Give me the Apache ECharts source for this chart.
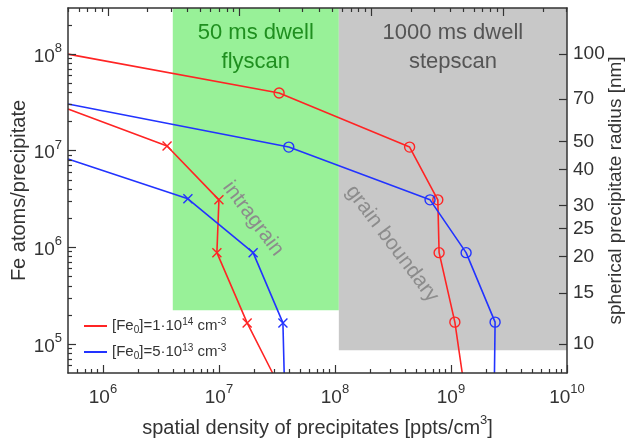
<!DOCTYPE html>
<html>
<head>
<meta charset="utf-8">
<script src="https://cdn.jsdelivr.net/npm/echarts@6/dist/echarts.min.js"></script>
<style>
  html, body { margin: 0; padding: 0; background: #fff; }
  #chart { width: 629px; height: 442px; }
</style>
</head>
<body>
<div id="chart"></div>
<script>
// axis ranges (real units)
const xMin = 5e5, xMax = 1e10;
const yMin = 5e4, yMax = 3e8;
// unlabelled top axis: decades relative to its first major tick
const topLo = -0.304, topHi = 3.485;
// radius axis: r = 100 nm at 1e8 atoms, r ~ N^(1/3)
const radiusTicks = [10, 15, 20, 25, 30, 40, 50, 70, 100];

const seriesNames = ['[Fe_{0}]=1·10^{14} cm^{-3}', '[Fe_{0}]=5·10^{13} cm^{-3}'];

// grain boundary (circles)
const redGbX = [5e5, 3.3e7, 4.4e8, 7.7e8, 7.9e8, 1.08e9, 1.25e9];
const redGbY = [1.0e8, 3.95e7, 1.09e7, 3.1e6, 8.8e5, 1.68e5, 5e4];
const blueGbX = [5e5, 4.0e7, 6.6e8, 1.35e9, 2.4e9, 2.37e9];
const blueGbY = [3.04e7, 1.09e7, 3.1e6, 8.8e5, 1.68e5, 5e4];
// intragrain (crosses)
const redIgX = [5e5, 3.57e6, 1.0e7, 9.6e6, 1.75e7, 2.9e7];
const redIgY = [2.7e7, 1.12e7, 3.1e6, 8.8e5, 1.65e5, 5e4];
const blueIgX = [5e5, 5.4e6, 1.97e7, 3.56e7, 3.65e7];
const blueIgY = [8.2e6, 3.18e6, 8.8e5, 1.65e5, 5e4];

// shaded regions
const flyscanX = [4.0e6, 1.08e8], flyscanYBottom = 2.23e5;
const stepscanX = [1.08e8, 1e10], stepscanYBottom = 8.6e4;
const flyscanText = '50 ms dwell\nflyscan';
const stepscanText = '1000 ms dwell\nstepscan';

// rotated annotations [x, y]
const intragrainAt = [1.97e7, 1.98e6];
const boundaryAt = [3.1e8, 1.09e6];

const RED = '#ff2424', BLUE = '#2233ff';
const AXIS = '#333333';
const FONT = '"Liberation Sans", Arial, sans-serif';

const lg = Math.log10;
const rOf = n => 2 + (lg(n) - 8) / 3;

function decadeMinors(lo, hi) {
  const out = [];
  for (let n = Math.floor(lo) - 1; n <= Math.ceil(hi); n++) {
    for (let k = 2; k <= 9; k++) {
      const v = n + lg(k);
      if (v > lo + 1e-6 && v < hi - 1e-6) out.push(v);
    }
  }
  return out;
}
function decadeMajors(lo, hi) {
  const out = [];
  for (let n = Math.ceil(lo - 1e-9); n <= hi + 1e-9; n++) out.push(n);
  return out;
}
function toRich(s) {
  return s.split(/([_^]\{[^}]*\})/).filter(Boolean).map(p => {
    if (p[0] === '_') return '{sub|' + p.slice(2, -1) + '}';
    if (p[0] === '^') return '{sup|' + p.slice(2, -1) + '}';
    return '{t|' + p + '}';
  }).join('');
}

const tickRich = {
  t: { fontSize: 19, lineHeight: 24, verticalAlign: 'bottom', color: AXIS, fontFamily: FONT },
  sup: { fontSize: 13, lineHeight: 14, verticalAlign: 'top', color: AXIS, fontFamily: FONT }
};
const nameRich = {
  t: { fontSize: 20, lineHeight: 24, verticalAlign: 'bottom', color: AXIS, fontFamily: FONT },
  sup: { fontSize: 13, lineHeight: 14, verticalAlign: 'top', color: AXIS, fontFamily: FONT }
};

const xLo = lg(xMin), xHi = lg(xMax), yLo = lg(yMin), yHi = lg(yMax);

function majorAxis(extra) {
  return Object.assign({
    type: 'value',
    z: 5,
    nameMoveOverlap: false,
    splitLine: { show: false },
    axisLine: { show: true, onZero: false, lineStyle: { color: AXIS, width: 1.5 } },
    axisTick: { show: true, inside: true, length: 8, lineStyle: { color: AXIS, width: 1.2 } },
    axisLabel: { show: false }
  }, extra);
}
function minorAxis(extra, ticks) {
  return Object.assign({
    type: 'value',
    z: 5,
    splitLine: { show: false },
    axisLine: { show: false, onZero: false },
    axisTick: { show: true, inside: true, length: 4, customValues: ticks, lineStyle: { color: AXIS, width: 1.2 } },
    axisLabel: { show: false }
  }, extra);
}

function pts(xs, ys, marker) {
  return xs.map((x, i) => {
    const edge = i === 0 || i === xs.length - 1;
    return { value: [lg(x), lg(ys[i])], symbol: edge ? 'none' : marker };
  });
}

const crossPath = 'path://M0,0L10,10M0,10L10,0';

function lineSeries(name, xs, ys, color, kind) {
  const isCircle = kind === 'circle';
  return {
    name: name,
    type: 'line',
    xAxisIndex: 0,
    yAxisIndex: 0,
    z: 3,
    data: pts(xs, ys, isCircle ? 'circle' : crossPath),
    symbolSize: isCircle ? 10 : 9,
    lineStyle: { color: color, width: 1.6 },
    itemStyle: {
      color: isCircle ? 'rgba(0,0,0,0)' : color,
      borderColor: color,
      borderWidth: 1.4
    },
    emphasis: { disabled: true },
    animation: false
  };
}

const chart = echarts.init(document.getElementById('chart'), null, { renderer: 'canvas' });

const series = [
  lineSeries(seriesNames[0], redGbX, redGbY, RED, 'circle'),
  lineSeries(seriesNames[0], redIgX, redIgY, RED, 'cross'),
  lineSeries(seriesNames[1], blueGbX, blueGbY, BLUE, 'circle'),
  lineSeries(seriesNames[1], blueIgX, blueIgY, BLUE, 'cross')
];

series[0].markArea = {
  silent: true,
  z: 1,
  data: [
    [
      {
        name: flyscanText,
        xAxis: lg(flyscanX[0]), yAxis: lg(flyscanYBottom),
        itemStyle: { color: '#98f198' },
        label: { show: true, position: 'insideTop', distance: 10, color: '#1f8f1f', fontSize: 22, lineHeight: 29, fontFamily: FONT }
      },
      { xAxis: lg(flyscanX[1]), yAxis: yHi }
    ],
    [
      {
        name: stepscanText,
        xAxis: lg(stepscanX[0]), yAxis: lg(stepscanYBottom),
        itemStyle: { color: '#c8c8c8' },
        label: { show: true, position: 'insideTop', distance: 10, color: '#555555', fontSize: 22, lineHeight: 29, fontFamily: FONT }
      },
      { xAxis: lg(stepscanX[1]), yAxis: yHi }
    ]
  ]
};

const option = {
  backgroundColor: '#ffffff',
  animation: false,
  textStyle: { fontFamily: FONT },
  grid: { left: 68, right: 62, top: 8, bottom: 69, containLabel: false, outerBoundsMode: 'none' },
  legend: {
    orient: 'vertical',
    left: 79,
    top: 312,
    itemGap: 8,
    itemWidth: 23,
    itemHeight: 2,
    icon: 'rect',
    selectedMode: false,
    data: [
      { name: seriesNames[0], itemStyle: { color: RED, borderWidth: 0 } },
      { name: seriesNames[1], itemStyle: { color: BLUE, borderWidth: 0 } }
    ],
    formatter: n => toRich(n),
    textStyle: {
      rich: {
        t: { fontSize: 15, lineHeight: 18, verticalAlign: 'middle', color: AXIS, fontFamily: FONT },
        sup: { fontSize: 10, lineHeight: 10, verticalAlign: 'top', color: AXIS, fontFamily: FONT },
        sub: { fontSize: 10, lineHeight: 8, verticalAlign: 'bottom', color: AXIS, fontFamily: FONT }
      }
    }
  },
  xAxis: [
    majorAxis({
      position: 'bottom', min: xLo, max: xHi,
      axisTick: { show: true, inside: true, length: 8, customValues: decadeMajors(xLo, xHi), lineStyle: { color: AXIS, width: 1.2 } },
      axisLabel: {
        show: true, margin: 10, customValues: decadeMajors(xLo, xHi),
        formatter: v => '{t|10}{sup|' + Math.round(v) + '}',
        rich: tickRich
      },
      name: toRich('spatial density of precipitates [ppts/cm^{3}]'),
      nameLocation: 'middle',
      nameGap: 41,
      nameTextStyle: { rich: nameRich }
    }),
    minorAxis({ position: 'bottom', min: xLo, max: xHi }, decadeMinors(xLo, xHi)),
    majorAxis({
      position: 'top', min: topLo, max: topHi,
      axisTick: { show: true, inside: true, length: 8, customValues: decadeMajors(topLo, topHi), lineStyle: { color: AXIS, width: 1.2 } }
    }),
    minorAxis({ position: 'top', min: topLo, max: topHi }, decadeMinors(topLo, topHi))
  ],
  yAxis: [
    majorAxis({
      position: 'left', min: yLo, max: yHi,
      axisTick: { show: true, inside: true, length: 8, customValues: decadeMajors(yLo, yHi), lineStyle: { color: AXIS, width: 1.2 } },
      axisLabel: {
        show: true, margin: 6, customValues: decadeMajors(yLo, yHi),
        formatter: v => '{t|10}{sup|' + Math.round(v) + '}',
        rich: tickRich
      },
      name: 'Fe atoms/precipitate',
      nameLocation: 'middle',
      nameGap: 39,
      nameTextStyle: { fontSize: 20, color: AXIS, fontFamily: FONT }
    }),
    minorAxis({ position: 'left', min: yLo, max: yHi }, decadeMinors(yLo, yHi)),
    majorAxis({
      position: 'right', min: rOf(yMin), max: rOf(yMax),
      axisTick: { show: true, inside: true, length: 8, customValues: radiusTicks.map(lg), lineStyle: { color: AXIS, width: 1.2 } },
      axisLabel: {
        show: true, margin: 6, customValues: radiusTicks.map(lg),
        formatter: v => String(Math.round(Math.pow(10, v))),
        fontSize: 19, color: AXIS, fontFamily: FONT
      },
      name: 'spherical precipitate radius [nm]',
      nameLocation: 'middle',
      nameGap: 39,
      nameTextStyle: { fontSize: 19, color: AXIS, fontFamily: FONT }
    })
  ],
  series: series
};

chart.setOption(option);

// rotated region annotations, positioned through the data axes
const annotations = [
  { text: 'intragrain', at: intragrainAt },
  { text: 'grain boundary', at: boundaryAt }
];
chart.setOption({
  graphic: annotations.map(a => {
    const p = chart.convertToPixel({ xAxisIndex: 0, yAxisIndex: 0 }, [lg(a.at[0]), lg(a.at[1])]);
    return {
      type: 'text',
      x: p[0], y: p[1],
      rotation: -53 * Math.PI / 180,
      z: 4,
      silent: true,
      style: {
        text: a.text,
        fill: '#8c8c8c',
        font: '21px ' + FONT,
        textAlign: 'center',
        textVerticalAlign: 'middle'
      }
    };
  })
});
</script>
</body>
</html>
